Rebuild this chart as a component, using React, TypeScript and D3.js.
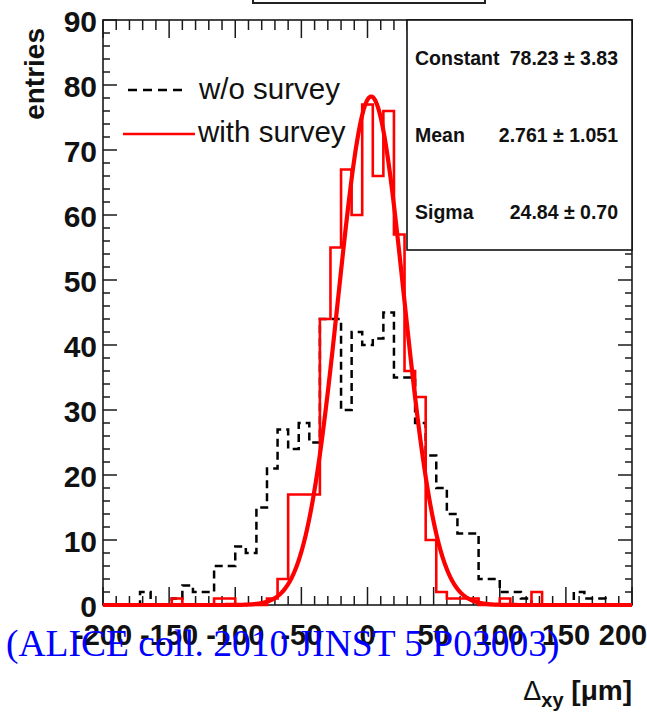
import React from 'react';
import * as d3 from 'd3';

// Histogram bins (centres, µm), bin width 8 µm
const binCenters = [
  -200, -192, -184, -176, -168, -160, -152, -144, -136, -128, -120, -112, -104, -96, -88, -80, -72,
  -64, -56, -48, -40, -32, -24, -16, -8, 0, 8, 16, 24, 32, 40, 48, 56, 64, 72, 80, 88, 96, 104,
  112, 120, 128, 136, 144, 152, 160, 168, 176, 184, 192, 200,
];
const binWidth = 8;

// w/o survey (black dashed)
const withoutSurvey = [
  0, 0, 0, 0, 2, 0, 0, 1, 3, 2, 2, 6, 6, 9, 8, 15, 21,
  27, 24, 28, 25, 44, 44, 30, 42, 40, 41, 45, 35, 35, 28, 23, 18, 14, 11, 11, 4, 4, 2,
  2, 1, 0, 0, 0, 0, 2, 1, 1, 0, 0, 0,
];

// with survey (red)
const withSurvey = [
  0, 0, 0, 0, 0, 0, 0, 1, 0, 0, 0, 1, 1, 0, 0, 0, 1,
  4, 17, 17, 17, 44, 55, 67, 60, 77, 66, 76, 57, 36, 32, 10, 2, 1, 1, 1, 0, 0, 1,
  0, 0, 2, 0, 0, 0, 0, 0, 0, 0, 0, 0,
];

// Gaussian fit parameters
const fitConstant = 78.23;
const fitMean = 2.761;
const fitSigma = 24.84;

const xTickValues = [-200, -150, -100, -50, 0, 50, 100, 150, 200];
const yTickValues = [0, 10, 20, 30, 40, 50, 60, 70, 80, 90];

const statsLabels = ['Constant', 'Mean', 'Sigma'];
const statsValues = ['78.23 \u00b1 3.83', '2.761 \u00b1 1.051', '24.84 \u00b1 0.70'];

const legendLabels = ['w/o survey', 'with survey'];

const SANS = '"Liberation Sans", Arial, Helvetica, sans-serif';
const SERIF = '"Liberation Serif", "Times New Roman", serif';

export default function App() {
  const W = 647;
  const H = 715;
  const fx0 = 103, fx1 = 632, fy0 = 20, fy1 = 605;
  const x = d3.scaleLinear().domain([-200, 200]).range([fx0, fx1]);
  const y = d3.scaleLinear().domain([0, 90]).range([fy1, fy0]);

  const histPath = (vals: number[]) => {
    const pts: [number, number][] = [];
    pts.push([x(binCenters[0] - binWidth / 2), y(0)]);
    binCenters.forEach((c, i) => {
      pts.push([x(c - binWidth / 2), y(vals[i])]);
      pts.push([x(c + binWidth / 2), y(vals[i])]);
    });
    pts.push([x(binCenters[binCenters.length - 1] + binWidth / 2), y(0)]);
    return d3.line()(pts) || '';
  };

  const gauss = (v: number) => fitConstant * Math.exp(-0.5 * ((v - fitMean) / fitSigma) ** 2);
  const fitPts: [number, number][] = d3.range(-200, 200.001, 0.5).map((v) => [x(v), y(gauss(v))]);
  const fitPath = d3.line()(fitPts) || '';

  const xMinor = d3.range(-200, 200.001, 10).filter((v) => !xTickValues.includes(v));
  const yMinor = d3.range(0, 90.001, 2).filter((v) => !yTickValues.includes(v));

  const axisColor = '#1a1a1a';

  return (
    <svg
      width={W}
      height={H}
      style={{ position: 'absolute', left: 0, top: 0, background: '#fff' }}
      xmlns="http://www.w3.org/2000/svg"
    >
      <defs>
        <clipPath id="frameClip">
          <rect x={fx0} y={0} width={fx1 - fx0} height={H} />
        </clipPath>
      </defs>
      <rect x={0} y={0} width={W} height={H} fill="#fff" />

      {/* title box remnant */}
      <rect x={253} y={-20} width={232} height={23} fill="#fff" stroke="#222" strokeWidth={2} />

      {/* frame */}
      <rect x={fx0} y={fy0} width={fx1 - fx0} height={fy1 - fy0} fill="none" stroke={axisColor} strokeWidth={1.6} />

      {/* x ticks */}
      {xTickValues.map((v) => (
        <g key={'xt' + v}>
          <line x1={x(v)} x2={x(v)} y1={fy1} y2={fy1 - 18} stroke={axisColor} strokeWidth={1.5} />
          <line x1={x(v)} x2={x(v)} y1={fy0} y2={fy0 + 18} stroke={axisColor} strokeWidth={1.5} />
        </g>
      ))}
      {xMinor.map((v) => (
        <g key={'xm' + v}>
          <line x1={x(v)} x2={x(v)} y1={fy1} y2={fy1 - 9} stroke={axisColor} strokeWidth={1.5} />
          <line x1={x(v)} x2={x(v)} y1={fy0} y2={fy0 + 10} stroke={axisColor} strokeWidth={1.5} />
        </g>
      ))}
      {/* y ticks */}
      {yTickValues.map((v) => (
        <g key={'yt' + v}>
          <line x1={fx0} x2={fx0 + 14} y1={y(v)} y2={y(v)} stroke={axisColor} strokeWidth={1.5} />
          <line x1={fx1} x2={fx1 - 14} y1={y(v)} y2={y(v)} stroke={axisColor} strokeWidth={1.5} />
        </g>
      ))}
      {yMinor.map((v) => (
        <g key={'ym' + v}>
          <line x1={fx0} x2={fx0 + 7} y1={y(v)} y2={y(v)} stroke={axisColor} strokeWidth={1.5} />
          <line x1={fx1} x2={fx1 - 7} y1={y(v)} y2={y(v)} stroke={axisColor} strokeWidth={1.5} />
        </g>
      ))}

      {/* histograms */}
      <g clipPath="url(#frameClip)">
        <path d={histPath(withoutSurvey)} fill="none" stroke="#000" strokeWidth={2.5} strokeDasharray="8,5" />
        <path d={histPath(withSurvey)} fill="none" stroke="#ff0000" strokeWidth={2.6} />
        <path d={fitPath} fill="none" stroke="#ff0000" strokeWidth={4.2} strokeLinejoin="round" />
      </g>

      {/* tick labels */}
      {xTickValues.map((v) => (
        <text key={'xl' + v} x={v === 200 ? x(v) - 9 : x(v)} y={645} textAnchor="middle" fontFamily={SANS} fontWeight="bold" fontSize={29} fill="#111">
          {v}
        </text>
      ))}
      {yTickValues.map((v) => (
        <text key={'yl' + v} x={97} y={y(v) + 12} textAnchor="end" fontFamily={SANS} fontWeight="bold" fontSize={30} fill="#111">
          {v}
        </text>
      ))}

      {/* y title */}
      <text
        transform={`translate(44,28) rotate(-90)`}
        textAnchor="end"
        fontFamily={SANS}
        fontWeight="bold"
        fontSize={28}
        fill="#111"
      >
        entries
      </text>

      {/* x title */}
      <text x={632} y={700} textAnchor="end" fontFamily={SANS} fill="#111">
        <tspan fontSize={27}>{'\u0394'}</tspan>
        <tspan fontSize={20} fontWeight="bold" dy={7}>xy</tspan>
        <tspan fontSize={28} fontWeight="bold" dy={-7}>{' [\u03bcm]'}</tspan>
      </text>

      {/* legend */}
      <line x1={128} x2={188} y1={90} y2={90} stroke="#000" strokeWidth={2.5} strokeDasharray="9,6" />
      <text x={199} y={99} fontFamily={SANS} fontSize={29.5} fill="#111">{legendLabels[0]}</text>
      <line x1={123} x2={195} y1={134} y2={134} stroke="#ff0000" strokeWidth={2.6} />
      <text x={198} y={142} fontFamily={SANS} fontSize={29.5} fill="#111">{legendLabels[1]}</text>

      {/* stats box */}
      <rect x={407} y={fy0} width={fx1 - 407} height={230} fill="#fff" stroke="#111" strokeWidth={1.6} />
      {statsLabels.map((lab, i) => (
        <g key={'st' + i}>
          <text x={415} y={fy0 + 38.3 + i * 76.7 + 7} fontFamily={SANS} fontWeight="bold" fontSize={19.5} fill="#111">
            {lab}
          </text>
          <text x={618} y={fy0 + 38.3 + i * 76.7 + 7} textAnchor="end" fontFamily={SANS} fontWeight="bold" fontSize={19.5} fill="#111">
            {statsValues[i]}
          </text>
        </g>
      ))}

      {/* citation */}
      <text x={6} y={656} fontFamily={SERIF} fontSize={37.5} fill="#0000ff">
        (ALICE coll. 2010 JINST 5 P03003)
      </text>
    </svg>
  );
}
